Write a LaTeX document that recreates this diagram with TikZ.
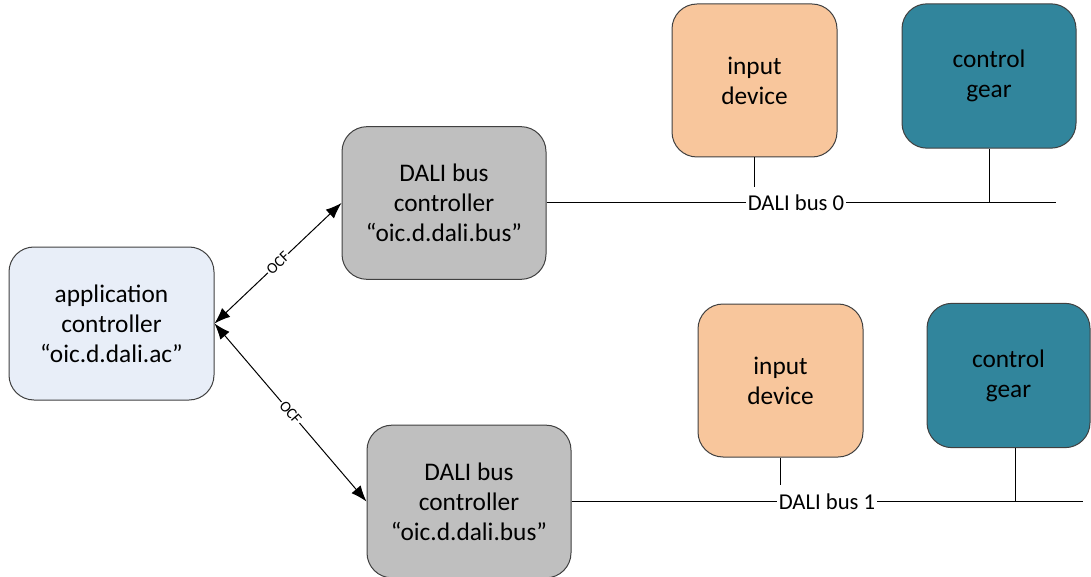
\documentclass[tikz,border=0pt]{standalone}
\usepackage{fontspec}
\setmainfont{Carlito}
\usetikzlibrary{arrows.meta}

\definecolor{edgegray}{RGB}{64,64,64}
\definecolor{acfill}{RGB}{232,238,248}
\definecolor{bcfill}{RGB}{191,191,191}
\definecolor{infill}{RGB}{248,198,156}
\definecolor{cgfill}{RGB}{49,133,156}

\begin{document}
\begin{tikzpicture}[x=0.75pt,y=-0.75pt,
  box/.style={draw=edgegray, line width=0.75pt, rounded corners=18.75pt,
    align=center, inner sep=0pt, text=black,
    font=\fontsize{19}{22.5}\selectfont},
  acbox/.style={box, fill=acfill, minimum width=153.75pt, minimum height=114.75pt},
  bcbox/.style={box, fill=bcfill, minimum width=153pt, minimum height=114.5pt},
  inbox/.style={box, fill=infill, minimum width=123.75pt, minimum height=114.75pt},
  cgbox/.style={box, fill=cgfill, minimum height=108.25pt},
  bus/.style={draw=black, line width=0.75pt},
  buslabel/.style={fill=white, inner xsep=1.5pt, inner ysep=0pt,
    minimum height=24pt, font=\fontsize{17}{20}\selectfont},
  ocf/.style={draw=black, line width=0.75pt,
    {Latex[length=12pt,width=9pt]}-{Latex[length=12pt,width=9pt]}},
  ocflabel/.style={sloped, midway, fill=white, inner sep=0.8pt,
    font=\fontsize{11.5}{13}\selectfont}
]
\useasboundingbox (0,0) rectangle (1091,577);

% controllers
\node[acbox] (ac)  at (111.5,323.5) {application\\controller\\“oic.d.dali.ac”};
\node[bcbox] (bc0) at (444,203)     {DALI bus\\controller\\“oic.d.dali.bus”};
\node[bcbox] (bc1) at (469,501.5)   {DALI bus\\controller\\“oic.d.dali.bus”};

% bus devices
\node[inbox] (in0) at (754.5,80.5) {input\\device};
\node[cgbox, minimum width=130.5pt] (cg0) at (989,76) {control\\gear};
\node[inbox] (in1) at (780.5,380.5) {input\\device};
\node[cgbox, minimum width=122.25pt] (cg1) at (1008.5,375.5) {control\\gear};

% OCF links
\draw[ocf] (ac.east) -- node[ocflabel] {OCF} (bc0.west);
\draw[ocf] (ac.east) -- node[ocflabel] {OCF} (bc1.west);

% DALI bus 0
\coordinate (b0end) at (1056,203);
\draw[bus] (bc0.east) -- (b0end);
\node[buslabel] (bl0) at (796,203) {DALI bus 0};
\draw[bus] (in0.south) -- (in0.south |- bl0.north);
\draw[bus] (cg0.south) -- (cg0.south |- b0end);

% DALI bus 1
\coordinate (b1end) at (1083,501.5);
\coordinate (t1) at (1015,501.5);
\draw[bus] (bc1.east) -- (b1end);
\node[buslabel] (bl1) at (827,501.5) {DALI bus 1};
\draw[bus] (in1.south) -- (in1.south |- bl1.north);
\draw[bus] (t1 |- cg1.south) -- (t1);
\end{tikzpicture}
\end{document}
